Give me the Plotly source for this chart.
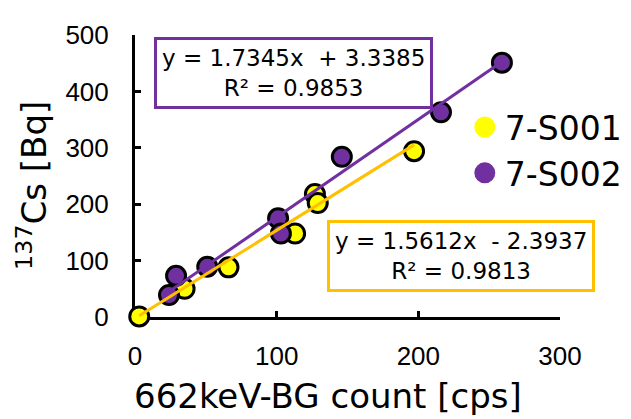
import plotly.graph_objects as go

# Data
s1_x = [3, 35, 66, 113, 127, 129, 197]
s1_y = [1, 50, 88, 148, 218, 202, 294]
s2_x = [24, 29, 51, 101, 103, 146, 216, 259]
s2_y = [39, 73, 89, 175, 148, 284, 363, 451]
names = ["7-S001", "7-S002"]
fit1 = (1.5612, -2.3937, 0.9813)
fit2 = (1.7345, 3.3385, 0.9853)
x_ticks = [0, 100, 200, 300]
y_ticks = [0, 100, 200, 300, 400, 500]

YEL = "#FFFF00"
ORG = "#FFC000"
PUR = "#7030A0"
FONT = "DejaVu Sans"
TICKFONT = "Liberation Sans, Arial, sans-serif"

fig = go.Figure()
mk = dict(size=19, line=dict(color="black", width=3))
fig.add_trace(go.Scatter(x=s1_x, y=s1_y, mode="markers", showlegend=False,
                         marker=dict(color=YEL, **mk), cliponaxis=False))
fig.add_trace(go.Scatter(x=s2_x, y=s2_y, mode="markers", showlegend=False,
                         marker=dict(color=PUR, **mk), cliponaxis=False))

def trend(xs, fit):
    a, b, _ = fit
    xx = [min(xs), max(xs)]
    return xx, [a * v + b for v in xx]

tx1, ty1 = trend(s1_x, fit1)
tx2, ty2 = trend(s2_x, fit2)
fig.add_trace(go.Scatter(x=tx1, y=ty1, mode="lines", showlegend=False,
                         line=dict(color=ORG, width=3), cliponaxis=False))
fig.add_trace(go.Scatter(x=tx2, y=ty2, mode="lines", showlegend=False,
                         line=dict(color=PUR, width=3), cliponaxis=False))

# legend entries
fig.add_trace(go.Scatter(x=[None], y=[None], mode="markers", name=names[0],
                         marker=dict(color=YEL, size=16, line=dict(color=YEL, width=5))))
fig.add_trace(go.Scatter(x=[None], y=[None], mode="markers", name=names[1],
                         marker=dict(color=PUR, size=16, line=dict(color=PUR, width=5))))

axis_common = dict(showgrid=False, zeroline=False, showline=True, linecolor="black",
                   linewidth=3, ticks="inside", ticklen=6, tickwidth=3, tickcolor="black",
                   tickfont=dict(family=TICKFONT, size=26, color="black"), layer="below traces")
fig.update_xaxes(range=[0, 300], tickvals=x_ticks, ticklabelstandoff=14, **axis_common)
fig.update_yaxes(range=[0, 500], tickvals=y_ticks, ticklabelstandoff=18, **axis_common)

def eq_text(fit):
    a, b, r2 = fit
    sign = "+" if b >= 0 else "-"
    return f"y = {a:.4f}x  {sign} {abs(b):.4f}<br>R² = {r2:.4f}"

fig.add_annotation(text=eq_text(fit2), xref="paper", yref="paper", x=0.373, y=0.866,
                   xanchor="center", yanchor="middle", showarrow=False,
                   font=dict(family=FONT, size=23, color="black"),
                   bordercolor=PUR, borderwidth=3, borderpad=5, bgcolor="white")
fig.add_annotation(text=eq_text(fit1), xref="paper", yref="paper", x=0.767, y=0.215,
                   xanchor="center", yanchor="middle", showarrow=False,
                   font=dict(family=FONT, size=23, color="black"),
                   bordercolor=ORG, borderwidth=3, borderpad=5, bgcolor="white")

fig.add_annotation(text="662keV-BG count [cps]", xref="paper", yref="paper",
                   x=0.453, y=-0.279, xanchor="center", yanchor="middle", showarrow=False,
                   font=dict(family=FONT, size=34, color="black"))
fig.add_annotation(text="<sup>137</sup>Cs [Bq]", xref="paper", yref="paper",
                   x=-0.244, y=0.466, xanchor="center", yanchor="middle", showarrow=False,
                   textangle=-90, font=dict(family=FONT, size=34, color="black"))

# page shows the figure offset by 8px (body margin); margins compensate
fig.update_layout(
    width=631, height=419,
    margin=dict(l=127, r=74, t=21, b=109.5),
    paper_bgcolor="white", plot_bgcolor="white",
    showlegend=True,
    legend=dict(x=0.776, y=0.773, xanchor="left", yanchor="top",
                font=dict(family=FONT, size=33, color="black"),
                bgcolor="rgba(0,0,0,0)", borderwidth=0, tracegroupgap=0,
                itemwidth=30),
)

fig.write_html("out.html")
